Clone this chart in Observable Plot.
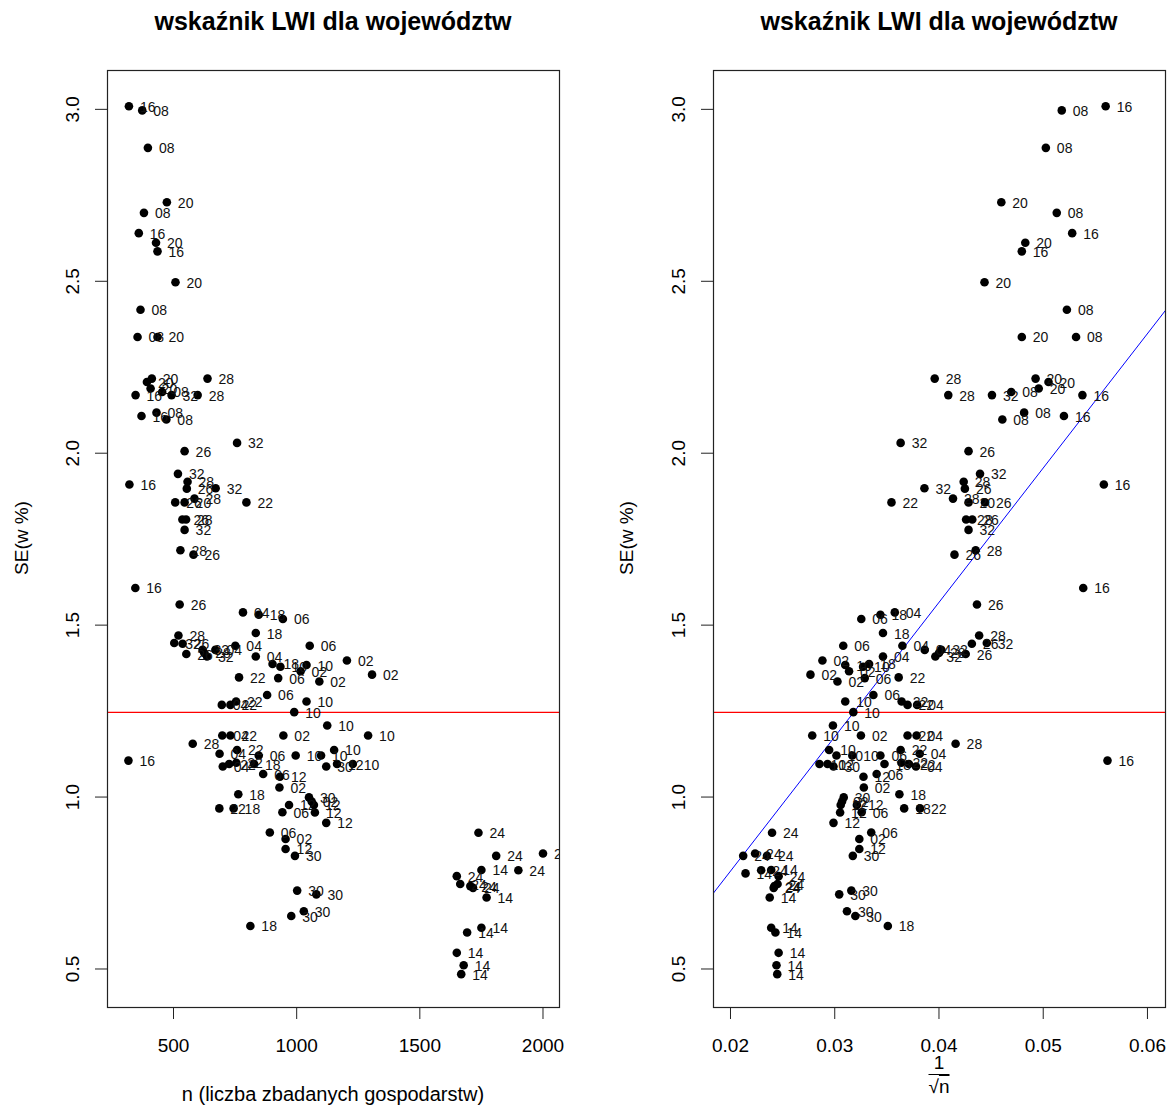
<!DOCTYPE html>
<html><head><meta charset="utf-8">
<script src="https://cdn.jsdelivr.net/npm/d3@7"></script>
<script src="https://cdn.jsdelivr.net/npm/@observablehq/plot@0.6"></script>
<style>
body{margin:0;background:#fff;font-family:"Liberation Sans",Arial,sans-serif;color:#000;}
#wrap{position:relative;width:1173px;height:1110px;overflow:hidden;background:#fff;}
.panel{position:absolute;top:0;}
.title{position:absolute;font-weight:bold;font-size:25px;white-space:nowrap;transform:translateX(-50%);top:7px;}
.ylab{position:absolute;font-size:19px;white-space:nowrap;transform:translate(-50%,-50%) rotate(-90deg);}
.xlab{position:absolute;font-size:20px;white-space:nowrap;transform:translateX(-50%);}
.frac{position:absolute;transform:translateX(-50%);font-size:19px;text-align:center;line-height:20px;}
.frac .num{display:block;border-bottom:1px solid #000;padding:0 2px 1px 2px;}
.frac .den{display:block;padding-top:2px;}
.frac .ov{text-decoration:overline;}
</style></head><body><div id="wrap"></div>
<script>
// województwo codes
const labels = ["16","08","08","20","08","16","20","16","20","08","20","08","28","20","20","20","28","32","08","16","08","08","16","32","26","32","28","26","32","16","22","28","20","26","28","26","32","26","28","16","26","06","18","04","18","06","04","04","32","32","26","26","28","32","28","04","02","02","02","10","02","10","18","06","22","10","06","22","22","04","10","10","10","02","22","04","28","10","10","10","06","22","04","10","12","30","18","22","04","22","12","06","02","18","30","02","12","12","12","06","22","18","12","06","02","12","30","30","30","30","30","18","24","24","24","24","14","24","14","24","24","24","24","14","14","14","14","14","14","16"];
// n = liczba zbadanych gospodarstw
const nValues = [319,373,396,473,380,359,429,435,508,366,435,354,638,412,392,407,598,492,454,346,431,471,370,758,545,518,557,554,671,321,796,585,545,507,551,536,545,581,528,345,525,944,846,782,834,1053,751,670,618,636,552,537,520,503,625,834,1204,1306,1092,1040,1016,934,902,925,766,1040,880,754,731,696,990,1124,1290,946,731,698,578,1152,1099,996,846,758,687,1228,1164,1120,827,726,700,755,932,864,930,763,1050,1061,1070,1074,969,942,686,744,1120,891,955,955,993,1002,1080,1029,978,812,1738,1810,2000,2221,2175,1900,1750,1650,1705,1716,1664,1771,1692,1750,1650,1678,1668,317];
// SE (w %)
const seValues = [3.009,2.997,2.888,2.730,2.699,2.640,2.612,2.587,2.497,2.417,2.338,2.338,2.217,2.217,2.207,2.188,2.169,2.169,2.178,2.169,2.118,2.098,2.108,2.030,2.006,1.940,1.917,1.897,1.898,1.909,1.857,1.868,1.857,1.857,1.807,1.807,1.777,1.705,1.718,1.608,1.560,1.518,1.530,1.537,1.477,1.440,1.440,1.428,1.428,1.409,1.416,1.446,1.470,1.448,1.419,1.409,1.397,1.356,1.336,1.384,1.366,1.379,1.387,1.346,1.348,1.278,1.297,1.278,1.268,1.268,1.247,1.208,1.179,1.179,1.179,1.179,1.155,1.137,1.121,1.121,1.121,1.137,1.126,1.096,1.096,1.089,1.096,1.096,1.089,1.100,1.059,1.067,1.028,1.008,0.999,0.987,0.977,0.955,0.977,0.956,0.967,0.967,0.925,0.897,0.878,0.849,0.829,0.728,0.717,0.668,0.654,0.625,0.896,0.829,0.836,0.829,0.778,0.787,0.788,0.770,0.741,0.736,0.747,0.708,0.606,0.620,0.547,0.511,0.485,1.106];

const xTicksN = [500, 1000, 1500, 2000];
const xTicksU = [0.02, 0.03, 0.04, 0.05, 0.06];
const yTicks = [0.5, 1.0, 1.5, 2.0, 2.5, 3.0];
const nDomain = [232, 2067];
const uDomain = [0.01837, 0.06173];
const seDomain = [0.388, 3.113];
const seRef = [1.246];          // czerwona linia pozioma
const fitCoef = [0.003, 39.08]; // prosta (niebieska): SE = a + b * 1/sqrt(n)

const titleText = "wskaźnik LWI dla województw";
const yTitle = "SE(w %)";
const xTitleLeft = "n (liczba zbadanych gospodarstw)";

const rows = labels.map((lab, i) => ({lab, n: nValues[i], se: seValues[i], u: 1 / Math.sqrt(nValues[i])}));
const font = '"Liberation Sans", Arial, sans-serif';

function panel({x, domain, ticks, fmt, width, ml, mr, extra = []}) {
  return Plot.plot({
    width, height: 1110,
    marginLeft: ml, marginRight: mr, marginTop: 70, marginBottom: 103,
    x: {domain, label: null},
    y: {domain: seDomain, label: null},
    style: {fontFamily: font, background: "transparent", overflow: "visible"},
    marks: [
      Plot.ruleY(seRef, {stroke: "#ff0000", strokeWidth: 1.2}),
      ...extra,
      Plot.dot(rows, {x, y: "se", r: 4.3, fill: "#000", stroke: "none", clip: true}),
      Plot.text(rows, {x, y: "se", text: "lab", dx: 11, dy: 1, textAnchor: "start", lineAnchor: "middle", fontSize: 14, fill: "#111", clip: true}),
      Plot.frame({stroke: "#222", strokeWidth: 1.2}),
      Plot.axisX({ticks, tickFormat: fmt, tickSize: 12, tickPadding: 19, fontSize: 19, stroke: "#222", fill: "#000", label: null}),
      Plot.axisY({ticks: yTicks, tickFormat: d3.format(".1f"), tickSize: 12, tickRotate: -90, tickPadding: 17, fontSize: 19, stroke: "#222", fill: "#000", label: null})
    ]
  });
}

const wrap = document.getElementById("wrap");
function place(el, left) { const d = document.createElement("div"); d.className = "panel"; d.style.left = left + "px"; d.appendChild(el); wrap.appendChild(d); }

const leftSvg = panel({x: "n", domain: nDomain, ticks: xTicksN, fmt: d3.format("d"), width: 586, ml: 107, mr: 27});
const fitLine = uDomain.map(u => ({u, se: fitCoef[0] + fitCoef[1] * u}));
const rightSvg = panel({x: "u", domain: uDomain, ticks: xTicksU, fmt: d3.format(".2f"), width: 587, ml: 127, mr: 8,
  extra: [Plot.line(fitLine, {x: "u", y: "se", stroke: "#0000ff", strokeWidth: 1, clip: true})]});
place(leftSvg, 0);
place(rightSvg, 586);

function addDiv(cls, text, left, top) { const d = document.createElement("div"); d.className = cls; d.textContent = text; d.style.left = left + "px"; d.style.top = top + "px"; wrap.appendChild(d); return d; }
addDiv("title", titleText, 333, 7);
addDiv("title", titleText, 939, 7);
addDiv("ylab", yTitle, 22, 538);
addDiv("ylab", yTitle, 627, 538);
addDiv("xlab", xTitleLeft, 333, 1083);
const fr = document.createElement("div");
fr.className = "frac"; fr.style.left = "939px"; fr.style.top = "1053px";
fr.innerHTML = '<span class="num">1</span><span class="den">√<span class="ov">n</span></span>';
wrap.appendChild(fr);
</script>
</body></html>
